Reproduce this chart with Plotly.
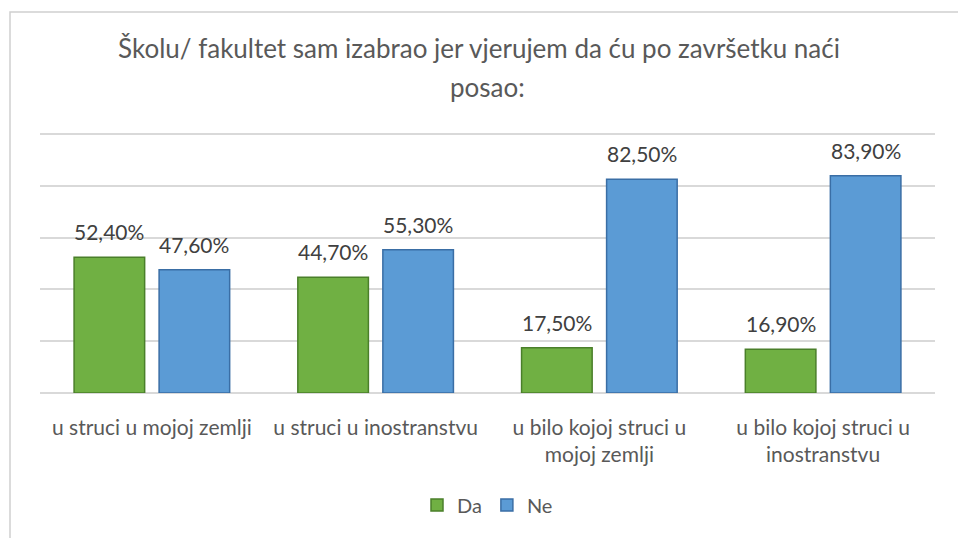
import plotly.graph_objects as go

categories = [
    "u struci u mojoj zemlji",
    "u struci u inostranstvu",
    "u bilo kojoj struci u<br>mojoj zemlji",
    "u bilo kojoj struci u<br>inostranstvu",
]
da_values = [52.4, 44.7, 17.5, 16.9]
ne_values = [47.6, 55.3, 82.5, 83.9]
series_names = ["Da", "Ne"]
title_line1 = "Školu/ fakultet sam izabrao jer vjerujem da ću po završetku naći"
title_line2 = "posao:"

FONT = "Lato, sans-serif"

def fmt(v):
    return f"{v:.2f}".replace(".", ",") + "%"

fig = go.Figure()
fig.add_trace(go.Bar(
    name=series_names[0], x=categories, y=da_values,
    marker=dict(color="#70b043", line=dict(color="#4a7f2a", width=1.5)),
    hoverinfo="x+y",
))
fig.add_trace(go.Bar(
    name=series_names[1], x=categories, y=ne_values,
    marker=dict(color="#5b9bd5", line=dict(color="#3a6ea5", width=1.5)),
    hoverinfo="x+y",
))

L, R, T, B = 40, 23, 133, 145
W, H = 958, 538
pw, ph = W - L - R, H - T - B

def px_x(p):
    return (p - L) / pw

def px_y(p):
    return (H - B - p) / ph

annotations = []
for vals, shift in ((da_values, -42.5), (ne_values, 42.5)):
    for cat, v in zip(categories, vals):
        annotations.append(dict(
            x=cat, y=v, xref="x", yref="y", text=fmt(v), showarrow=False,
            xshift=shift, yshift=11, yanchor="bottom",
            font=dict(size=21, color="#404040", family=FONT),
        ))
annotations.append(dict(
    x=0.5, y=px_y(87), xref="paper", yref="paper", text=title_line2, showarrow=False,
    xanchor="center", yanchor="middle",
    font=dict(size=26, color="#595959", family=FONT),
))

fig.update_layout(
    width=W, height=H,
    margin=dict(l=L, r=R, t=T, b=B),
    paper_bgcolor="white", plot_bgcolor="white",
    barmode="group", bargap=0.24, bargroupgap=0.17,
    font=dict(family=FONT, color="#595959", size=18),
    title=dict(text=title_line1, x=0.5, xanchor="center",
               y=1 - 49 / H, yanchor="middle",
               font=dict(size=26, color="#595959", family=FONT)),
    xaxis=dict(showline=False, ticks="", ticklabelstandoff=20,
               tickfont=dict(size=21, color="#595959", family=FONT)),
    yaxis=dict(range=[0, 100.4], dtick=20, showticklabels=False, gridcolor="#d9d9d9",
               gridwidth=1.5, zeroline=True, zerolinecolor="#d9d9d9", zerolinewidth=1.5),
    legend=dict(orientation="h", x=0.5, xanchor="center", y=px_y(505), yanchor="middle",
                font=dict(size=20, color="#595959", family=FONT)),
    showlegend=True,
    annotations=annotations,
    shapes=[dict(type="rect", xref="paper", yref="paper",
                 x0=px_x(10), x1=px_x(970), y0=px_y(550), y1=px_y(12),
                 line=dict(color="#d0d0d0", width=1.5), layer="below")],
)

fig.write_html("out.html", config={"displayModeBar": False},
               post_script="document.body.style.margin='0';")
